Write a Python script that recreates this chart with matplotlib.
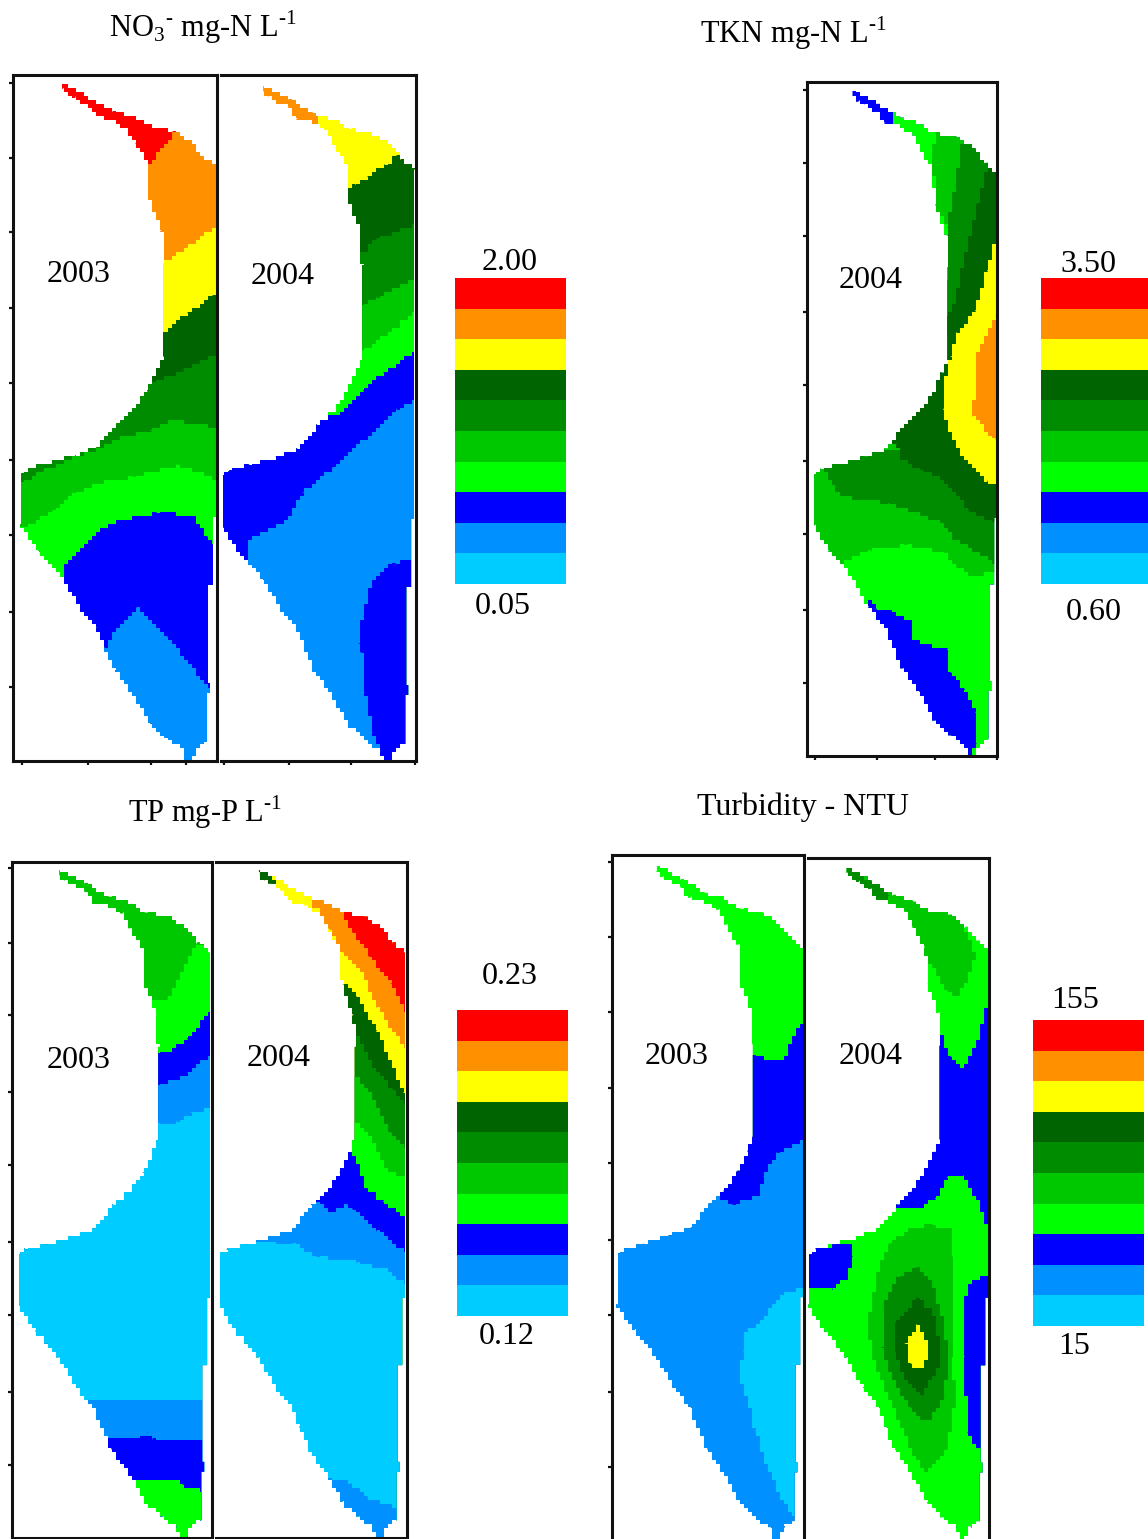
import numpy as np
import matplotlib
matplotlib.use("Agg")
import matplotlib.pyplot as plt
from matplotlib.patches import Polygon

plt.rcParams['font.family'] = ['Liberation Serif', 'DejaVu Serif']
plt.rcParams['mathtext.fontset'] = 'custom'
plt.rcParams['mathtext.rm'] = 'Liberation Serif'

W, H = 1148, 1539

RED, ORANGE, YELLOW = '#ff0000', '#ff9000', '#ffff00'
DARK, GREEN, MID, BRIGHT = '#006400', '#008c00', '#00c800', '#00ff00'
BLUE, SKY, CYAN = '#0000ff', '#0090ff', '#00ccff'
LEGEND_COLORS = [RED, ORANGE, YELLOW, DARK, GREEN, MID, BRIGHT, BLUE, SKY, CYAN]


def below(line, reach=250, floor=1600):
    # everything under a contour line, the lake outline clips the rest
    x0, y0 = line[0]
    x1, y1 = line[-1]
    return [(x0 - reach, y0)] + line + [(x1 + reach, y1), (x1 + reach, floor), (x0 - reach, floor)]


# lake outline, pixels of the picture
LAKE = [(62, 84), (88, 97), (113, 111), (135, 118), (150, 127), (173, 131), (192, 143), (203, 157),
        (216, 168), (216, 517), (213, 517), (213, 585), (208, 585), (208, 683), (210, 683), (210, 693),
        (207, 693), (207, 742), (197, 747), (192, 760), (185, 760), (182, 748), (167, 738), (150, 723),
        (133, 693), (115, 670), (105, 647), (97, 627), (80, 607), (62, 577), (50, 563), (38, 550),
        (21, 525), (21, 473), (28, 468), (48, 463), (75, 455), (97, 447), (117, 423), (132, 410),
        (147, 390), (157, 370), (163, 357), (163, 263), (162, 230), (150, 200), (148, 163), (135, 143),
        (127, 128), (113, 120), (97, 116), (88, 105), (75, 98), (68, 95), (62, 89)]

NO3_2003 = [
    (ORANGE, below([(147, 166), (178, 128), (230, 128)], reach=40)),
    (YELLOW, below([(163, 263), (187, 247), (216, 225)])),
    (DARK, below([(163, 332), (187, 313), (213, 295)])),
    (GREEN, below([(155, 382), (183, 370), (203, 360), (216, 352)])),
    (MID, below([(21, 482), (43, 470), (75, 457), (100, 447), (123, 437), (150, 430), (173, 420), (216, 428)])),
    (BRIGHT, below([(28, 527), (53, 510), (73, 493), (100, 483), (133, 477), (177, 465), (216, 480)])),
    (BLUE, below([(62, 577), (68, 560), (97, 532), (117, 520), (157, 513), (192, 515), (207, 537), (216, 547)])),
    (SKY, below([(105, 648), (113, 632), (137, 607), (167, 637), (187, 663), (212, 690)])),
]
NO3_2004 = [
    (YELLOW, [(318, 100), (420, 100), (420, 200), (318, 200)]),
    (DARK, below([(345, 190), (355, 185), (367, 177), (385, 165), (397, 155), (420, 150)])),
    (GREEN, below([(363, 252), (377, 238), (415, 225)])),
    (MID, below([(363, 305), (377, 298), (415, 277)])),
    (BRIGHT, below([(363, 350), (387, 333), (415, 312)])),
    (BLUE, below([(340, 415), (363, 390), (383, 373), (415, 350)])),
    (SKY, below([(245, 562), (250, 540), (287, 520), (302, 493), (333, 467), (363, 440), (397, 410), (416, 398)])),
    (BLUE, [(420, 557), (395, 563), (373, 580), (367, 600), (363, 617), (358, 643), (362, 653), (365, 693),
            (373, 733), (382, 757), (385, 775), (420, 775)]),
]
TKN_2004 = [
    (BRIGHT, [(893, 100), (1010, 100), (1010, 800), (780, 800), (780, 400), (893, 125)]),
    (MID, [(937, 125), (1005, 125), (1005, 300), (947, 227), (935, 203), (933, 150)]),
    (GREEN, [(963, 135), (1005, 135), (1005, 340), (945, 335), (947, 227), (955, 185)]),
    (MID, [(800, 440), (1005, 440), (1005, 577), (993, 573), (973, 575), (957, 567), (947, 553),
           (907, 545), (870, 550), (847, 560), (800, 600)]),
    (GREEN, [(810, 450), (1005, 450), (1005, 567), (990, 560), (953, 537), (943, 523), (917, 513), (890, 503),
             (863, 500), (835, 493), (835, 485), (822, 468)]),
    (DARK, [(987, 165), (1005, 165), (1005, 525), (995, 522), (970, 510), (957, 493), (940, 477), (923, 470),
            (903, 460), (897, 443), (880, 440), (930, 340), (948, 312), (955, 303), (960, 277), (968, 243),
            (978, 203)]),
    (YELLOW, [(995, 240), (1005, 240), (1005, 484), (987, 482), (967, 460), (953, 440), (943, 410), (945, 380),
              (950, 357), (957, 333), (975, 310), (987, 270)]),
    (ORANGE, [(995, 317), (1005, 317), (1005, 440), (995, 438), (977, 420), (973, 417), (977, 353)]),
    (BLUE, [(870, 600), (877, 610), (890, 610), (910, 623), (913, 640), (947, 650), (950, 673), (965, 690),
            (975, 713), (977, 743), (970, 760), (860, 770), (850, 610)]),
]
TP_2003 = [
    (BRIGHT, below([(158, 1000), (167, 998), (180, 977), (192, 950), (197, 945), (216, 945)])),
    (BLUE, below([(159, 1053), (168, 1052), (187, 1038), (213, 1007)])),
    (SKY, below([(159, 1085), (177, 1080), (187, 1073), (213, 1053)])),
    (CYAN, below([(159, 1123), (177, 1122), (190, 1113), (213, 1107)])),
    (SKY, below([(92, 1400), (205, 1398)])),
    (BLUE, below([(112, 1438), (140, 1438), (147, 1433), (153, 1438), (205, 1439)])),
    (BRIGHT, below([(133, 1480), (180, 1480), (182, 1485), (205, 1492)])),
]
TP_2004 = [
    (DARK, [(255, 868), (268, 868), (278, 888), (268, 888)]),
    (ORANGE, [(312, 900), (312, 905), (320, 913), (330, 930), (343, 953), (360, 970), (377, 1007), (410, 1057),
              (410, 900)]),
    (RED, [(340, 900), (340, 910), (353, 933), (370, 957), (390, 983), (410, 1020), (410, 900)]),
    (DARK, below([(343, 982), (357, 997), (377, 1030), (403, 1093), (410, 1093)])),
    (GREEN, below([(357, 1033), (372, 1065), (393, 1090), (410, 1110)])),
    (MID, below([(357, 1077), (373, 1097), (390, 1133), (410, 1153)])),
    (BRIGHT, below([(357, 1123), (373, 1143), (388, 1170), (410, 1180)])),
    (BLUE, [(350, 1150), (360, 1170), (367, 1190), (383, 1202), (410, 1222), (410, 1260), (300, 1260), (300, 1195),
            (317, 1197), (340, 1170)]),
    (SKY, below([(317, 1202), (330, 1212), (347, 1205), (353, 1210), (377, 1230), (410, 1258)])),
    (CYAN, below([(273, 1242), (293, 1243), (317, 1257), (357, 1262), (387, 1270), (410, 1290)])),
    (SKY, below([(330, 1478), (350, 1483), (367, 1498), (397, 1508)])),
]
TURB_2003 = [
    (BLUE, below([(753, 1055), (773, 1060), (785, 1058), (792, 1037), (805, 1017)])),
    (SKY, below([(690, 1190), (715, 1197), (733, 1205), (760, 1193), (763, 1177), (777, 1153), (805, 1140)])),
    (CYAN, [(805, 1288), (783, 1295), (770, 1310), (760, 1325), (747, 1330), (743, 1350), (740, 1380), (748, 1403),
            (755, 1430), (767, 1467), (780, 1497), (797, 1523), (810, 1525), (810, 1288)]),
]
TURB_2004 = [
    (MID, [(840, 860), (920, 890), (960, 915), (975, 957), (967, 983), (957, 997), (947, 990), (933, 967),
           (920, 943), (905, 915), (870, 892), (840, 875)]),
    (GREEN, [(845, 865), (890, 895), (880, 905), (860, 885), (845, 875)]),
    (BLUE, below([(930, 1035), (942, 1035), (950, 1057), (963, 1070), (977, 1040), (988, 1000), (1000, 990)])),
    (BRIGHT, below([(880, 1215), (900, 1207), (920, 1208), (935, 1198), (947, 1178), (963, 1175), (977, 1200),
                    (988, 1228), (1000, 1230)])),
    (BLUE, [(790, 1255), (818, 1248), (852, 1242), (853, 1257), (848, 1277), (833, 1290), (813, 1288), (790, 1287)]),
    (BLUE, [(1000, 1272), (973, 1280), (967, 1292), (964, 1313), (965, 1357), (967, 1433), (978, 1448), (1000, 1448)]),
    (MID, [(933, 1225), (950, 1230), (953, 1257), (953, 1357), (955, 1403), (947, 1450), (928, 1472), (917, 1460),
           (900, 1423), (873, 1357), (868, 1323), (877, 1273), (890, 1243), (910, 1228)]),
    (GREEN, [(917, 1267), (933, 1283), (943, 1323), (948, 1357), (945, 1397), (928, 1423), (910, 1407), (893, 1380),
             (882, 1347), (883, 1307), (897, 1277)]),
    (DARK, [(917, 1298), (933, 1313), (940, 1347), (940, 1367), (923, 1395), (907, 1380), (895, 1353), (895, 1323)]),
    (YELLOW, [(917, 1325), (928, 1343), (928, 1360), (920, 1370), (910, 1363), (906, 1343)]),
]

NO3_TICKS_Y = [83, 158, 232, 308, 383, 460, 535, 612, 687]
TKN_TICKS_Y = [90, 163, 236, 312, 385, 461, 534, 610, 683]
TP_TICKS_Y = [868, 943, 1015, 1092, 1165, 1242, 1315, 1392, 1465]
TURB_TICKS_Y = [862, 937, 1012, 1088, 1163, 1240, 1315, 1392, 1467]
NO3_TICKS_X = [22, 88, 151, 186]
NO3B_TICKS_X = [224, 289, 351, 415]
TKN_TICKS_X = [815, 877, 935, 997]

# frame (left, right, top, bottom), lake (left x, right x, tip y, end y), first colour, areas, ticks
PANELS = [
    ((13, 217, 75, 761), (21, 216, 84, 760), RED, NO3_2003, NO3_TICKS_Y, NO3_TICKS_X, True),
    ((221, 416, 75, 761), (223, 414, 86, 762), ORANGE, NO3_2004, [], NO3B_TICKS_X, False),
    ((807, 997, 82, 756), (814, 997, 91, 757), BLUE, TKN_2004, TKN_TICKS_Y, TKN_TICKS_X, True),
    ((12, 212, 862, 1538), (19, 210, 870, 1538), MID, TP_2003, TP_TICKS_Y, [], True),
    ((216, 407, 862, 1538), (220, 405, 870, 1538), YELLOW, TP_2004, [], [], False),
    ((612, 804, 855, 1548), (618, 803, 866, 1539), BRIGHT, TURB_2003, TURB_TICKS_Y, [], True),
    ((808, 989, 858, 1548), (809, 988, 868, 1539), BRIGHT, TURB_2004, [], [], False),
]

# box left, top and the labels around each colour scale
LEGENDS = [(455, 278, 111), (1041, 278, 107), (457, 1010, 111), (1033, 1020, 111)]
TITLES = [(203, 27, r'NO$_{3}$$^{\text{-}}$ mg-N L$^{\text{-}1}$', 22), (793, 33, r'TKN mg-N L$^{\text{-}1}$', 22),
          (205, 812, r'TP mg-P L$^{\text{-}1}$', 22), (803, 807, 'Turbidity - NTU', 23)]
YEARS = [(79, 274, '2003'), (283, 276, '2004'), (871, 280, '2004'), (79, 1060, '2003'),
         (279, 1058, '2004'), (677, 1056, '2003'), (871, 1056, '2004')]
SCALE_LABELS = [(510, 262, '2.00'), (503, 606, '0.05'), (1088, 264, '3.50'), (1094, 612, '0.60'),
                (510, 976, '0.23'), (507, 1336, '0.12'), (1075, 1000, '155'), (1074, 1346, '15')]


def stair(points, cell=4.0):
    # the maps were drawn on a coarse grid, so slanted edges come out as steps
    pts = [tuple(p) for p in points] + [tuple(points[0])]
    out = [pts[0]]
    for a, b in zip(pts[:-1], pts[1:]):
        if a[0] == b[0] or a[1] == b[1]:
            out.append(b)
            continue
        n = int(max(abs(b[0] - a[0]), abs(b[1] - a[1])) / (cell / 2)) + 1
        for t in np.linspace(0, 1, n + 1)[1:]:
            x = round((a[0] + (b[0] - a[0]) * t) / cell) * cell
            y = round((a[1] + (b[1] - a[1]) * t) / cell) * cell
            if (x, y) == out[-1]:
                continue
            if x != out[-1][0] and y != out[-1][1]:
                out.append((x, out[-1][1]))
            out.append((x, y))
        out.append(b)
    return out


def pixel_axes(fig, left, right, top, bottom):
    ax = fig.add_axes([left / W, 1 - bottom / H, (right - left) / W, (bottom - top) / H])
    ax.set_xlim(left, right)
    ax.set_ylim(bottom, top)
    return ax


def draw_panel(fig, frame, lake_box, first, areas, ticks_y, ticks_x, left_spine):
    ax = pixel_axes(fig, *frame)
    lake = np.array(LAKE, dtype=float)
    x0, x1, y0, y1 = lake_box
    lake[:, 0] = x0 + (lake[:, 0] - 21) * (x1 - x0) / (216 - 21)
    lake[:, 1] = y0 + (lake[:, 1] - 84) * (y1 - y0) / (760 - 84)
    outline = Polygon(stair(lake), closed=True, facecolor=first, edgecolor='none', zorder=1)
    ax.add_patch(outline)
    for color, pts in areas:
        patch = Polygon(stair(pts), closed=True, facecolor=color, edgecolor='none', zorder=1)
        ax.add_patch(patch)
        patch.set_clip_path(outline)
    ax.set_yticks(ticks_y)
    ax.set_xticks(ticks_x)
    ax.tick_params(length=3, width=1.6, labelleft=False, labelbottom=False, color='#111111')
    for spine in ax.spines.values():
        spine.set_linewidth(2.2)
        spine.set_color('#111111')
    ax.spines['left'].set_visible(left_spine)


def draw_legend(fig, left, top, width):
    height = 306
    ax = pixel_axes(fig, left, left + width, top, top + height)
    step = height / len(LEGEND_COLORS)
    ax.barh([top + step * (i + 0.5) for i in range(len(LEGEND_COLORS))], width, height=step, left=left,
            color=LEGEND_COLORS)
    ax.axis('off')


fig = plt.figure(figsize=(W / 100, H / 100), dpi=100, facecolor='white')
for panel in PANELS:
    draw_panel(fig, *panel)
for box in LEGENDS:
    draw_legend(fig, *box)


def put(x, y, s, size):
    fig.text(x / W, 1 - y / H, s, fontsize=size, ha='center', va='center', color='black')


for x, y, s, size in TITLES:
    put(x, y, s, size)
for x, y, s in YEARS:
    put(x, y, s, 23)
for x, y, s in SCALE_LABELS:
    put(x, y, s, 23)

fig.savefig('out.png', dpi=100)
